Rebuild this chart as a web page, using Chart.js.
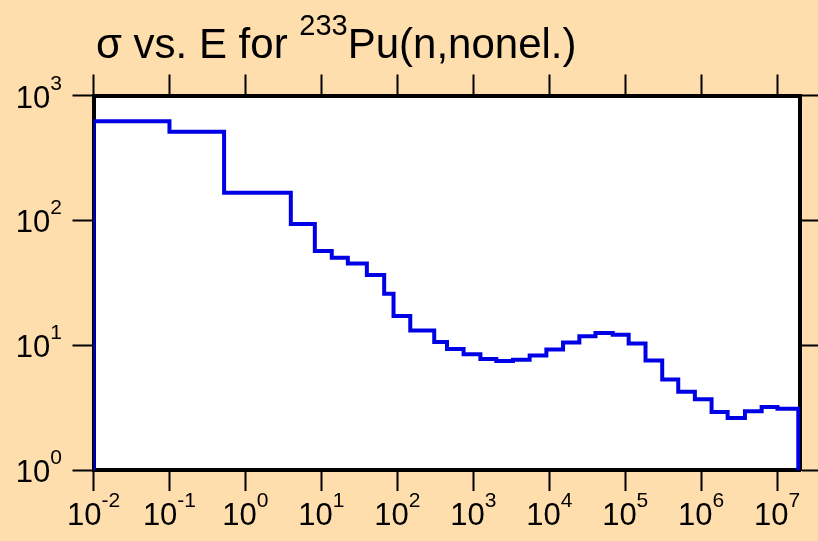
<!DOCTYPE html>
<html>
<head>
<meta charset="utf-8">
<title>σ vs. E for 233Pu(n,nonel.)</title>
<script src="https://cdn.jsdelivr.net/npm/chart.js@4/dist/chart.umd.min.js"></script>
<style>
  html, body { margin: 0; padding: 0; background: #FFDEAD; }
  #wrap { width: 818px; height: 541px; }
</style>
</head>
<body>
<div id="wrap"><canvas id="c" width="818" height="541"></canvas></div>
<script>
// Group boundaries (eV) of the tabulated cross section
const energyEdges = [
  0.01, 0.1, 0.524, 3.96, 8.2, 13.7, 22.3, 39.7, 67.1, 89.1,
  148, 306, 451, 745, 1240, 2010, 3330, 5520, 9160, 15200,
  24900, 40600, 68500, 111000, 185000, 307000, 499000, 826000, 1370000, 2230000,
  3770000, 6250000, 10100000, 19000000
];
// Group-averaged nonelastic cross section (b), one value per group
const sigma = [
  621, 513, 166, 93.4, 56.8, 50.1, 45.2, 36.4, 25.8, 17.1,
  13.1, 10.6, 9.31, 8.44, 7.74, 7.46, 7.64, 8.28, 9.25, 10.5,
  11.8, 12.5, 12.1, 10.3, 7.55, 5.32, 4.23, 3.68, 2.91, 2.61,
  2.95, 3.19, 3.09
];
// Axis ranges and decade ticks
const xRange = [0.01, 2.0e7];
const yRange = [1, 1000];
const xExponents = [-2, -1, 0, 1, 2, 3, 4, 5, 6, 7];
const yExponents = [0, 1, 2, 3];

const FONT = '"Liberation Sans", Arial, Helvetica, sans-serif';
const BG = '#FFDEAD';

// Histogram outline: rise from the axis floor, one level per group, drop back at the end
const points = [{ x: energyEdges[0], y: yRange[0] }];
sigma.forEach((s, i) => points.push({ x: energyEdges[i], y: s }));
points.push({ x: energyEdges[energyEdges.length - 1], y: sigma[sigma.length - 1] });
points.push({ x: energyEdges[energyEdges.length - 1], y: yRange[0] });

const decadeTicks = exps => exps.map(e => ({ value: Math.pow(10, e) }));

function powerLabel(ctx, x, y, exp, align, base, sup, raise) {
  const b = '10', s = String(exp);
  ctx.font = base + 'px ' + FONT;
  const wb = ctx.measureText(b).width;
  ctx.font = sup + 'px ' + FONT;
  const ws = ctx.measureText(s).width;
  const total = wb + ws;
  const left = align === 'center' ? x - total / 2 : x - total;
  ctx.textAlign = 'left';
  ctx.textBaseline = 'alphabetic';
  ctx.font = base + 'px ' + FONT;
  ctx.fillText(b, left, y);
  ctx.font = sup + 'px ' + FONT;
  ctx.fillText(s, left + wb, y - raise);
}

const backdrop = {
  id: 'backdrop',
  beforeDraw(chart) {
    const { ctx, chartArea: a } = chart;
    ctx.save();
    ctx.fillStyle = BG;
    ctx.fillRect(0, 0, chart.width, chart.height);
    ctx.fillStyle = '#ffffff';
    ctx.fillRect(a.left, a.top, a.right - a.left, a.bottom - a.top);
    ctx.restore();
  }
};

const labels = {
  id: 'labels',
  afterDraw(chart) {
    const { ctx } = chart;
    const xs = chart.scales.x, ys = chart.scales.y;
    ctx.save();
    ctx.fillStyle = '#000000';
    xExponents.forEach(e => {
      powerLabel(ctx, xs.getPixelForValue(Math.pow(10, e)), 525, e, 'center', 31, 21, 18);
    });
    yExponents.forEach(e => {
      const py = ys.getPixelForValue(Math.pow(10, e));
      powerLabel(ctx, 62, py + 12, e, 'right', 31, 21, 18);
    });
    // Title with superscript mass number
    let tx = 96;
    const ty = 58;
    ctx.textAlign = 'left';
    ctx.textBaseline = 'alphabetic';
    ctx.font = '42px ' + FONT;
    const p1 = 'σ vs. E for ';
    ctx.fillText(p1, tx, ty);
    tx += ctx.measureText(p1).width;
    ctx.font = '29px ' + FONT;
    ctx.fillText('233', tx, ty - 23);
    tx += ctx.measureText('233').width;
    ctx.font = '42px ' + FONT;
    ctx.fillText('Pu(n,nonel.)', tx, ty);
    ctx.restore();
  }
};

const edgeAxis = (position, range, exps, size) => ({
  type: 'logarithmic',
  position,
  min: range[0],
  max: range[1],
  afterBuildTicks: s => { s.ticks = decadeTicks(exps); },
  afterFit: s => {
    if (position === 'top' || position === 'bottom') s.height = size; else s.width = size;
  },
  ticks: { display: false },
  grid: {
    drawOnChartArea: false,
    drawTicks: true,
    tickLength: 21,
    tickWidth: 2,
    tickColor: '#000000'
  },
  border: { display: true, color: '#000000', width: 4 }
});

new Chart(document.getElementById('c'), {
  type: 'line',
  data: {
    datasets: [{
      data: points,
      // horizontal run at each group's value, then the vertical jump to the next group
      stepped: 'before',
      borderColor: '#0000e6',
      borderWidth: 4,
      borderJoinStyle: 'miter',
      borderCapStyle: 'butt',
      pointRadius: 0,
      fill: false
    }]
  },
  options: {
    responsive: false,
    devicePixelRatio: 1,
    animation: false,
    layout: { padding: 0 },
    plugins: {
      legend: { display: false },
      title: { display: false },
      tooltip: { enabled: false }
    },
    scales: {
      x: edgeAxis('bottom', xRange, xExponents, 71),
      x2: edgeAxis('top', xRange, xExponents, 95.5),
      y: edgeAxis('left', yRange, yExponents, 93.5),
      y2: edgeAxis('right', yRange, yExponents, 18)
    }
  },
  plugins: [backdrop, labels]
});
</script>
</body>
</html>
